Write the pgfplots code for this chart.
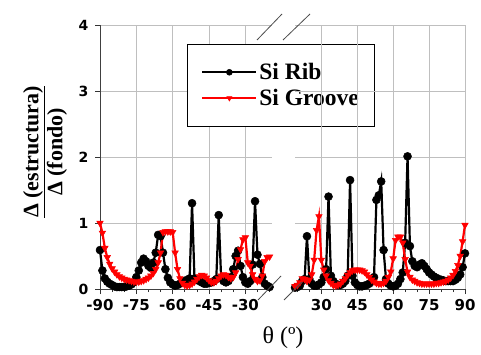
\documentclass[border=0pt]{standalone}
\usepackage{fontspec}
\setmainfont{Liberation Serif}
\newfontfamily\tickfont{DejaVu Sans}
\usepackage{pgfplots}
\usepackage{pgfplotstable}
\pgfplotsset{compat=1.18}

\pgfplotstableread{
t v
-90 0.59
-89 0.28
-88 0.16
-87 0.11
-86 0.08
-85 0.06
-84 0.04
-83 0.03
-82 0.03
-81 0.03
-80 0.03
-79 0.04
-78 0.05
-77 0.07
-76 0.10
-75 0.18
-74 0.28
-73 0.40
-72 0.46
-71 0.42
-70 0.35
-69 0.32
-68 0.40
-67 0.55
-66 0.82
-65 0.80
-64 0.55
-63 0.30
-62 0.17
-61 0.10
-60 0.07
-59 0.05
-58 0.06
-57 0.08
-56 0.10
-55 0.12
-54 0.14
-53 0.16
-52 1.30
-51 0.16
-50 0.14
-49 0.12
-48 0.10
-47 0.08
-46 0.08
-45 0.09
-44 0.10
-43 0.12
-42 0.15
-41 1.12
-40 0.16
-39 0.12
-38 0.10
-37 0.12
-36 0.18
-35 0.30
-34 0.50
-33 0.58
-32 0.35
-31 0.18
-30 0.10
-29 0.08
-28 0.12
-27 0.37
-26 1.33
-25 0.52
-24 0.38
-23 0.18
-22 0.08
-21 0.05
-20 0.03
}\ribL

\pgfplotstableread{
t v
-90 1.00
-89 0.85
-88 0.62
-87 0.48
-86 0.38
-85 0.31
-84 0.26
-83 0.22
-82 0.19
-81 0.17
-80 0.15
-79 0.14
-78 0.13
-77 0.12
-76 0.11
-75 0.11
-74 0.11
-73 0.12
-72 0.13
-71 0.15
-70 0.17
-69 0.20
-68 0.24
-67 0.30
-66 0.40
-65 0.55
-64 0.86
-63 0.87
-62 0.87
-61 0.87
-60 0.86
-59 0.55
-58 0.30
-57 0.16
-56 0.09
-55 0.06
-54 0.05
-53 0.06
-52 0.08
-51 0.11
-50 0.15
-49 0.19
-48 0.21
-47 0.20
-46 0.17
-45 0.13
-44 0.10
-43 0.10
-42 0.12
-41 0.16
-40 0.20
-39 0.22
-38 0.21
-37 0.18
-36 0.16
-35 0.18
-34 0.25
-33 0.45
-32 0.60
-31 0.75
-30 0.78
-29 0.40
-28 0.35
-27 0.22
-26 0.15
-25 0.12
-24 0.13
-23 0.20
-22 0.42
-21 0.48
-20 0.49
}\grvL

\pgfplotstableread{
t v
19 0.02
20 0.03
21 0.05
22 0.12
23 0.15
24 0.80
25 0.15
26 0.08
27 0.05
28 0.05
29 0.07
30 0.10
31 0.18
32 0.30
33 1.40
34 0.20
35 0.12
36 0.08
37 0.06
38 0.06
39 0.08
40 0.12
41 0.20
42 1.65
43 0.20
44 0.10
45 0.06
46 0.04
47 0.04
48 0.05
49 0.06
50 0.08
51 0.12
52 0.18
53 1.35
54 1.42
55 1.63
56 0.59
57 0.15
58 0.08
59 0.05
60 0.04
61 0.05
62 0.08
63 0.15
64 0.25
65 0.70
66 2.01
67 0.65
68 0.42
69 0.35
70 0.33
71 0.37
72 0.39
73 0.35
74 0.30
75 0.25
76 0.22
77 0.19
78 0.17
79 0.15
80 0.14
81 0.13
82 0.12
83 0.12
84 0.12
85 0.12
86 0.14
87 0.17
88 0.22
89 0.33
90 0.54
}\ribR

\pgfplotstableread{
t v
19 0.04
20 0.06
21 0.10
22 0.16
23 0.15
24 0.12
25 0.14
26 0.22
27 0.44
28 0.89
29 1.10
30 0.44
31 0.29
32 0.20
33 0.13
34 0.09
35 0.06
36 0.05
37 0.06
38 0.08
39 0.12
40 0.16
41 0.21
42 0.25
43 0.28
44 0.29
45 0.29
46 0.29
47 0.28
48 0.26
49 0.22
50 0.18
51 0.14
52 0.11
53 0.09
54 0.08
55 0.08
56 0.09
57 0.12
58 0.18
59 0.26
60 0.46
61 0.74
62 0.79
63 0.79
64 0.70
65 0.45
66 0.26
67 0.18
68 0.14
69 0.12
70 0.10
71 0.09
72 0.08
73 0.08
74 0.08
75 0.08
76 0.08
77 0.08
78 0.09
79 0.09
80 0.10
81 0.11
82 0.12
83 0.14
84 0.17
85 0.21
86 0.27
87 0.36
88 0.50
89 0.72
90 0.97
}\grvR

\pgfplotsset{
  panel/.style={
    scale only axis, height=264pt,
    ymin=0, ymax=4, ytick={0,1,2,3,4},
    grid=major, grid style={black!25, line width=0.7pt},
    axis line style={-, black!75, line width=0.7pt},
    tick style={black!80, line width=0.6pt},
    tick align=outside, major tick length=5pt, minor tick length=3pt,
    clip=false,
    xticklabel style={font=\tickfont\bfseries\fontsize{15}{17}\selectfont, yshift=-2pt},
    yticklabel style={font=\tickfont\bfseries\fontsize{14}{16}\selectfont, xshift=-3pt},
  },
  rib/.style={black, line width=2.2pt, mark=*, mark size=4pt, mark options={line width=0.5pt}},
  grv/.style={red, line width=2.2pt, mark=triangle*, mark size=3.8pt, mark options={rotate=180, line width=0.5pt}},
}

\begin{document}
\begin{tikzpicture}[x=1pt,y=1pt]
\useasboundingbox (0,0) rectangle (481,354);

\begin{axis}[panel, at={(100pt,65pt)}, anchor=south west, width=172pt,
  xmin=-90, xmax=-19,
  xtick={-90,-75,-60,-45,-30}, xticklabels={-90,-75,-60,-45,-30},
  minor xtick={-85,-80,-70,-65,-55,-50,-40,-35,-25,-20},
  yticklabels={0,1,2,3,4},
  axis x line*=bottom, axis y line*=left,
  legend style={at={(0.506,0.928)}, anchor=north west, draw=black, line width=0.7pt,
    font=\bfseries\fontsize{23.5}{25}\selectfont, inner xsep=14pt, inner ysep=17pt,
    row sep=4pt, cells={anchor=west},
    /tikz/every even column/.append style={column sep=12pt}},
  legend image code/.code={\draw[mark repeat=2,mark phase=2,#1, line width=2pt, mark size=3pt] plot coordinates {(0pt,0pt) (27pt,0pt) (54pt,0pt)};},
]
\addplot[rib] table[x=t,y=v]{\ribL};
\addlegendentry{Si Rib}
\addplot[grv] table[x=t,y=v]{\grvL};
\addlegendentry{Si Groove}
\end{axis}

\begin{axis}[panel, at={(295pt,65pt)}, anchor=south west, width=170pt,
  xmin=19, xmax=90,
  xtick={30,45,60,75,90}, xticklabels={30,45,60,75,90},
  minor xtick={20,25,35,40,50,55,65,70,80,85},
  yticklabels={}, ytick style={draw=none},
  axis x line*=bottom, axis y line*=left, y axis line style={draw=none},
]
\addplot[rib] table[x=t,y=v]{\ribR};
\addplot[grv] table[x=t,y=v]{\grvR};
\end{axis}

% axis break marks
\draw[black!70, line width=0.8pt] (257,314) -- (282,340);
\draw[black!70, line width=0.8pt] (283,314) -- (310,340);
\draw[black!70, line width=0.8pt] (258,54) -- (281,78);
\draw[black!70, line width=0.8pt] (284,54) -- (302,72);

% labels
\node[rotate=90, align=center, font=\bfseries\fontsize{22}{24}\selectfont, inner sep=0pt] at (45,202)
  {\underline{Δ (estructura)}\\Δ (fondo)};
\node[font=\fontsize{24}{26}\selectfont, inner sep=0pt] at (283,16) {θ (º)};
\end{tikzpicture}
\end{document}
